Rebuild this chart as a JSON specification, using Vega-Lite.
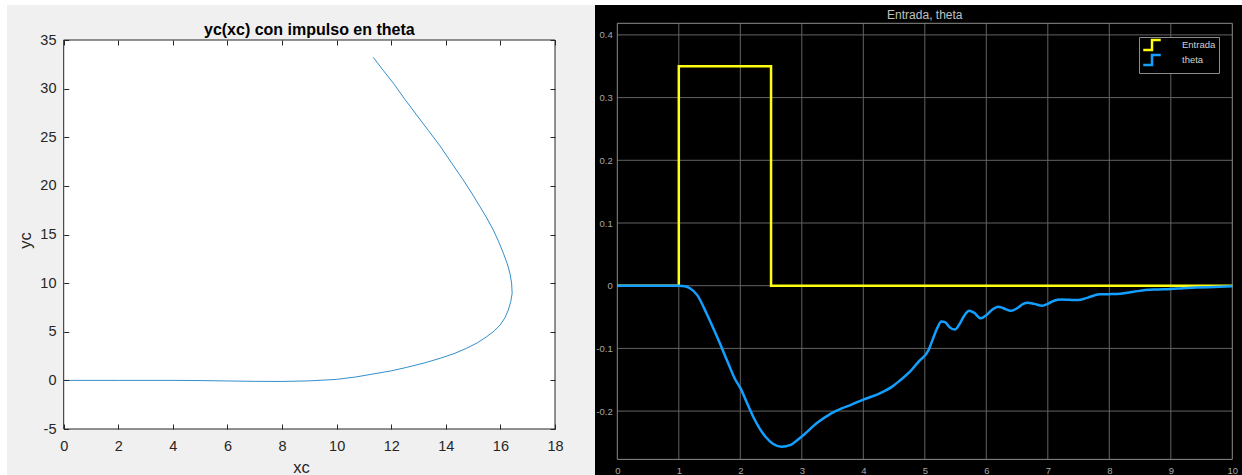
{
  "$schema": "https://vega.github.io/schema/vega-lite/v6.json",
  "background": "white",
  "padding": {"left": 7, "top": 5, "right": 0, "bottom": 0},
  "spacing": 0,
  "bounds": "flush",
  "config": {"view": {"stroke": null}, "font": "Liberation Sans"},
  "datasets": {
    "xy": [
      {"i":0,"xc":0,"yc":0},{"i":1,"xc":2,"yc":0},{"i":2,"xc":4,"yc":0},{"i":3,"xc":5,"yc":-0.02},
      {"i":4,"xc":6,"yc":-0.06},{"i":5,"xc":7,"yc":-0.1},{"i":6,"xc":8,"yc":-0.11},{"i":7,"xc":9,"yc":-0.05},
      {"i":8,"xc":10,"yc":0.1},{"i":9,"xc":10.7,"yc":0.35},{"i":10,"xc":11.34,"yc":0.66},{"i":11,"xc":12,"yc":0.98},
      {"i":12,"xc":12.57,"yc":1.34},{"i":13,"xc":13.2,"yc":1.78},{"i":14,"xc":13.79,"yc":2.27},{"i":15,"xc":14.3,"yc":2.75},
      {"i":16,"xc":14.76,"yc":3.3},{"i":17,"xc":15.15,"yc":3.85},{"i":18,"xc":15.5,"yc":4.5},{"i":19,"xc":15.78,"yc":5.1},
      {"i":20,"xc":15.99,"yc":5.7},{"i":21,"xc":16.17,"yc":6.45},{"i":22,"xc":16.29,"yc":7.24},{"i":23,"xc":16.38,"yc":8.1},
      {"i":24,"xc":16.43,"yc":8.96},{"i":25,"xc":16.41,"yc":10.0},{"i":26,"xc":16.35,"yc":11.0},{"i":27,"xc":16.25,"yc":12.0},
      {"i":28,"xc":16.11,"yc":13.07},{"i":29,"xc":15.93,"yc":14.3},{"i":30,"xc":15.74,"yc":15.46},{"i":31,"xc":15.5,"yc":16.7},
      {"i":32,"xc":15.25,"yc":17.86},{"i":33,"xc":14.95,"yc":19.25},{"i":34,"xc":14.64,"yc":20.6},{"i":35,"xc":14.2,"yc":22.4},
      {"i":36,"xc":13.79,"yc":24.1},{"i":37,"xc":13.36,"yc":25.7},{"i":38,"xc":12.93,"yc":27.29},{"i":39,"xc":12.5,"yc":28.9},
      {"i":40,"xc":12.08,"yc":30.55},{"i":41,"xc":11.7,"yc":31.9},{"i":42,"xc":11.34,"yc":33.22}
    ],
    "entrada": [
      {"t":0,"v":0,"s":"Entrada"},{"t":1,"v":0.35,"s":"Entrada"},{"t":2.5,"v":0,"s":"Entrada"},{"t":10,"v":0,"s":"Entrada"}
    ],
    "theta": [
      {"t":0,"v":0,"s":"theta"},{"t":1,"v":0,"s":"theta"},{"t":1.1,"v":-0.001,"s":"theta"},{"t":1.18,"v":-0.004,"s":"theta"},
      {"t":1.3,"v":-0.015,"s":"theta"},{"t":1.45,"v":-0.044,"s":"theta"},{"t":1.57,"v":-0.07,"s":"theta"},{"t":1.69,"v":-0.097,"s":"theta"},
      {"t":1.8,"v":-0.123,"s":"theta"},{"t":1.92,"v":-0.15,"s":"theta"},{"t":2.0,"v":-0.163,"s":"theta"},{"t":2.1,"v":-0.185,"s":"theta"},
      {"t":2.21,"v":-0.209,"s":"theta"},{"t":2.31,"v":-0.227,"s":"theta"},{"t":2.41,"v":-0.241,"s":"theta"},{"t":2.53,"v":-0.252,"s":"theta"},
      {"t":2.67,"v":-0.257,"s":"theta"},{"t":2.82,"v":-0.254,"s":"theta"},{"t":2.92,"v":-0.247,"s":"theta"},{"t":3.03,"v":-0.238,"s":"theta"},
      {"t":3.24,"v":-0.2195,"s":"theta"},{"t":3.48,"v":-0.2035,"s":"theta"},{"t":3.65,"v":-0.1956,"s":"theta"},{"t":3.8,"v":-0.19,"s":"theta"},
      {"t":3.99,"v":-0.182,"s":"theta"},{"t":4.27,"v":-0.1716,"s":"theta"},{"t":4.47,"v":-0.161,"s":"theta"},{"t":4.61,"v":-0.15,"s":"theta"},
      {"t":4.75,"v":-0.138,"s":"theta"},{"t":4.9,"v":-0.121,"s":"theta"},{"t":5.06,"v":-0.103,"s":"theta"},{"t":5.12,"v":-0.088,"s":"theta"},
      {"t":5.2,"v":-0.068,"s":"theta"},{"t":5.27,"v":-0.057,"s":"theta"},{"t":5.33,"v":-0.058,"s":"theta"},{"t":5.4,"v":-0.066,"s":"theta"},
      {"t":5.49,"v":-0.07,"s":"theta"},{"t":5.56,"v":-0.062,"s":"theta"},{"t":5.64,"v":-0.048,"s":"theta"},{"t":5.72,"v":-0.04,"s":"theta"},
      {"t":5.8,"v":-0.043,"s":"theta"},{"t":5.91,"v":-0.052,"s":"theta"},{"t":6.0,"v":-0.047,"s":"theta"},{"t":6.1,"v":-0.038,"s":"theta"},
      {"t":6.19,"v":-0.0335,"s":"theta"},{"t":6.28,"v":-0.036,"s":"theta"},{"t":6.4,"v":-0.04,"s":"theta"},{"t":6.5,"v":-0.036,"s":"theta"},
      {"t":6.6,"v":-0.029,"s":"theta"},{"t":6.67,"v":-0.027,"s":"theta"},{"t":6.78,"v":-0.029,"s":"theta"},{"t":6.91,"v":-0.032,"s":"theta"},
      {"t":7.0,"v":-0.029,"s":"theta"},{"t":7.1,"v":-0.024,"s":"theta"},{"t":7.22,"v":-0.022,"s":"theta"},{"t":7.35,"v":-0.0225,"s":"theta"},
      {"t":7.49,"v":-0.023,"s":"theta"},{"t":7.65,"v":-0.019,"s":"theta"},{"t":7.84,"v":-0.0138,"s":"theta"},{"t":8.0,"v":-0.0135,"s":"theta"},
      {"t":8.18,"v":-0.0127,"s":"theta"},{"t":8.4,"v":-0.0095,"s":"theta"},{"t":8.59,"v":-0.0069,"s":"theta"},{"t":8.8,"v":-0.006,"s":"theta"},
      {"t":9.0,"v":-0.0053,"s":"theta"},{"t":9.2,"v":-0.004,"s":"theta"},{"t":9.41,"v":-0.003,"s":"theta"},{"t":9.7,"v":-0.002,"s":"theta"},
      {"t":10,"v":-0.001,"s":"theta"}
    ],
    "hg": [{"g":-0.2},{"g":-0.1},{"g":0},{"g":0.1},{"g":0.2},{"g":0.3},{"g":0.4}],
    "vg": [{"g":1},{"g":2},{"g":3},{"g":4},{"g":5},{"g":6},{"g":7},{"g":8},{"g":9}],
    "one": [{"k":1}],
    "t1": [{"label": "yc(xc) con impulso en theta"}],
    "t2": [{"label": "Entrada, theta"}]
  },
  "hconcat": [
    {
      "width": 588,
      "height": 470,
      "view": {"fill": "#f0f0f0", "stroke": null},
      "layer": [
        {
          "data": {"name": "one"},
          "mark": {"type": "rect", "fill": "white", "stroke": "#262626", "strokeWidth": 1},
          "encoding": {
            "x": {"datum": 0, "type": "quantitative", "scale": {"domain": [-2.0774, 19.4655], "nice": false, "zero": false},
              "axis": {"orient": "bottom", "offset": -46, "values": [0,2,4,6,8,10,12,14,16,18], "domain": false, "grid": false, "tickSize": -5, "tickColor": "#262626", "labelPadding": 15.5, "labelFontSize": 14.5, "labelColor": "#262626", "labelFont": "Liberation Sans", "labelFlush": false, "labelOverlap": false, "labelExpr": "'' + datum.value", "title": "xc", "titleFontSize": 16.5, "titleFontWeight": "normal", "titleColor": "#262626", "titleFont": "Liberation Sans", "titlePadding": 6, "zindex": 1}},
            "x2": {"datum": 18},
            "y": {"datum": -5, "type": "quantitative", "scale": {"domain": [-9.73, 38.599], "nice": false, "zero": false},
              "axis": {"orient": "left", "offset": -56.7, "values": [-5,0,5,10,15,20,25,30,35], "domain": false, "grid": false, "tickSize": -5, "tickColor": "#262626", "labelPadding": 12.7, "labelFontSize": 14.5, "labelColor": "#262626", "labelFont": "Liberation Sans", "labelOverlap": false, "labelExpr": "'' + datum.value", "title": "yc", "titleFontSize": 16.5, "titleFontWeight": "normal", "titleColor": "#262626", "titleFont": "Liberation Sans", "titlePadding": 6, "zindex": 1}},
            "y2": {"datum": 35}
          }
        },
        {
          "data": {"name": "xy"},
          "mark": {"type": "line", "color": "#0072BD", "strokeWidth": 1, "opacity": 0.8},
          "encoding": {
            "x": {"field": "xc", "type": "quantitative", "scale": {"domain": [-2.0774, 19.4655], "nice": false, "zero": false},
              "axis": {"orient": "top", "offset": -35, "values": [0,2,4,6,8,10,12,14,16,18], "domain": false, "grid": false, "labels": false, "tickSize": -5, "tickColor": "#262626", "title": null, "zindex": 1}},
            "y": {"field": "yc", "type": "quantitative", "scale": {"domain": [-9.73, 38.599], "nice": false, "zero": false},
              "axis": {"orient": "right", "offset": -40, "values": [-5,0,5,10,15,20,25,30,35], "domain": false, "grid": false, "labels": false, "tickSize": -5, "tickColor": "#262626", "title": null, "zindex": 1}},
            "order": {"field": "i", "type": "quantitative"}
          }
        },
        {
          "data": {"name": "t1"},
          "mark": {"type": "text", "font": "Liberation Sans", "fontSize": 16, "fontWeight": "bold", "color": "#000000", "align": "center", "baseline": "alphabetic"},
          "encoding": {
            "x": {"datum": 9, "type": "quantitative", "axis": null},
            "y": {"datum": 35.5, "type": "quantitative", "axis": null},
            "text": {"field": "label"}
          }
        }
      ],
      "resolve": {"axis": {"x": "independent", "y": "independent"}}
    },
    {
      "width": 647,
      "height": 470,
      "view": {"fill": "#000000", "stroke": null},
      "layer": [
        {
          "data": {"name": "hg"},
          "mark": {"type": "rule", "color": "#636363", "strokeWidth": 1},
          "encoding": {
            "y": {"field": "g", "type": "quantitative", "scale": {"domain": [-0.30191, 0.44769], "nice": false, "zero": false},
              "axis": {"orient": "left", "offset": -22.3, "values": [-0.2,-0.1,0,0.1,0.2,0.3,0.4], "domain": false, "ticks": false, "grid": false, "labelPadding": 5, "labelFontSize": 9.5, "labelColor": "#a8a8a8", "labelFont": "Liberation Sans", "labelOverlap": false, "labelExpr": "'' + datum.value", "title": null, "zindex": 1}},
            "x": {"datum": 0, "type": "quantitative", "scale": {"domain": [-0.3626, 10.1577], "nice": false, "zero": false},
              "axis": {"orient": "bottom", "offset": -15.7, "values": [0,1,2,3,4,5,6,7,8,9,10], "domain": false, "ticks": false, "grid": false, "labelPadding": 6.5, "labelFontSize": 9.5, "labelColor": "#a8a8a8", "labelFont": "Liberation Sans", "labelFlush": false, "labelOverlap": false, "labelExpr": "'' + datum.value", "title": null, "zindex": 1}},
            "x2": {"datum": 10}
          }
        },
        {
          "data": {"name": "vg"},
          "mark": {"type": "rule", "color": "#636363", "strokeWidth": 1},
          "encoding": {
            "x": {"field": "g", "type": "quantitative", "axis": {"title": null}},
            "y": {"datum": -0.277, "type": "quantitative", "axis": {"title": null}},
            "y2": {"datum": 0.4185}
          }
        },
        {
          "data": {"name": "one"},
          "mark": {"type": "rect", "fillOpacity": 0, "stroke": "#8c8c8c", "strokeWidth": 1},
          "encoding": {
            "x": {"datum": 0, "type": "quantitative", "axis": {"title": null}},
            "x2": {"datum": 10},
            "y": {"datum": -0.277, "type": "quantitative", "axis": {"title": null}},
            "y2": {"datum": 0.4185}
          }
        },
        {
          "data": {"name": "entrada"},
          "mark": {"type": "line", "interpolate": "step-after", "strokeWidth": 2.5},
          "encoding": {
            "x": {"field": "t", "type": "quantitative", "axis": {"title": null}},
            "y": {"field": "v", "type": "quantitative", "axis": {"title": null}},
            "color": {"field": "s", "type": "nominal",
              "scale": {"domain": ["Entrada", "theta"], "range": ["#ffff11", "#129fff"]},
              "legend": {"orient": "none", "legendX": 1132, "legendY": 32, "title": null, "fillColor": "#000000", "strokeColor": "#8c8c8c", "padding": 3, "labelColor": "#d0d0d0", "labelFontSize": 9.5, "labelFont": "Liberation Sans", "symbolType": "M-2.5,1.4H0V-1.4H2.5", "symbolSize": 49, "symbolStrokeWidth": 2.5, "symbolFillColor": "transparent", "symbolOffset": 5, "labelOffset": 25, "rowPadding": -9}}
          }
        },
        {
          "data": {"name": "theta"},
          "mark": {"type": "line", "interpolate": "monotone", "strokeWidth": 2.5},
          "encoding": {
            "x": {"field": "t", "type": "quantitative", "axis": {"title": null}},
            "y": {"field": "v", "type": "quantitative", "axis": {"title": null}},
            "color": {"field": "s", "type": "nominal"}
          }
        },
        {
          "data": {"name": "t2"},
          "mark": {"type": "text", "font": "Liberation Sans", "fontSize": 12, "color": "#c0c0c0", "align": "center", "baseline": "alphabetic"},
          "encoding": {
            "x": {"datum": 5, "type": "quantitative"},
            "y": {"datum": 0.42536, "type": "quantitative"},
            "text": {"field": "label"}
          }
        }
      ]
    }
  ]
}
